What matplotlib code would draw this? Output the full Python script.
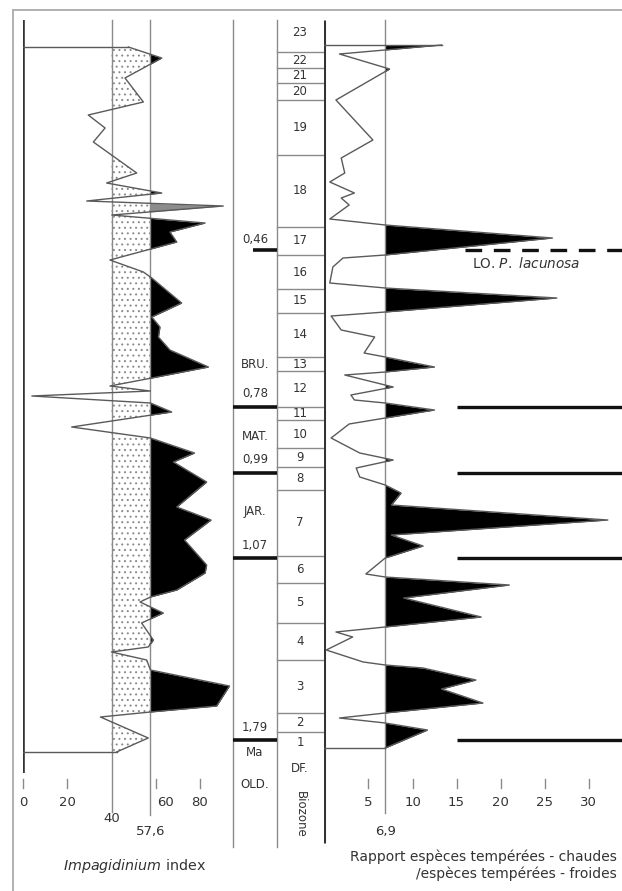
import numpy as np
import matplotlib.pyplot as plt

plt.rcParams['font.family'] = ['DejaVu Sans']
plt.rcParams['mathtext.fontset'] = 'dejavusans'
plt.rcParams['hatch.linewidth'] = 0.7

# ---------------------------------------------------------------------------
# Data (levels run from top of the section downwards)
# ---------------------------------------------------------------------------
# Impagidinium index log
imp_level = [47, 58, 78, 102, 115, 128, 142, 173, 183, 193, 201, 206, 215, 223,
             232, 242, 260, 272, 278, 303, 317, 327, 337, 350, 367, 378, 386,
             391, 396, 403, 412, 427, 438, 453, 462, 482, 507, 520, 540, 565,
             573, 590, 597, 602, 613, 623, 640, 647, 652, 660, 670, 686, 706,
             712, 717, 738, 752]
imp_value = [47.6, 62.7, 46.1, 54.4, 29.5, 37.1, 31.8, 51.4, 37.8, 62.7, 28.8,
             90.5, 40.1, 82.3, 66.4, 69.5, 39.3, 54.4, 58.2, 71.7, 58.2, 61.9,
             61.2, 66.4, 83.8, 58.2, 39.3, 57.6, 4.0, 57.6, 67.2, 22.0, 57.6,
             77.5, 68.0, 83.0, 69.5, 85.0, 73.0, 83.0, 82.3, 69.5, 57.6, 52.9,
             63.4, 53.6, 58.9, 56.6, 40.0, 55.9, 57.6, 93.3, 87.5, 57.6, 35.0,
             56.6, 42.3]
imp_low = 40.0
imp_mean = 57.6
imp_grey_span = (201, 215)
imp_ticks = [0, 20, 60, 80]

# Warm-temperate / cold-temperate species ratio log
ratio_level = [45, 54, 69, 100, 140, 158, 173, 182, 193, 198, 205, 219, 225,
               238, 255, 258, 267, 283, 288, 298, 312, 316, 330, 337, 353, 357,
               367, 372, 375, 387, 395, 400, 403, 410, 418, 424, 438, 453, 460,
               468, 477, 485, 493, 505, 520, 535, 546, 558, 574, 577, 585, 598,
               617, 627, 632, 637, 650, 662, 665, 668, 680, 689, 703, 713, 718,
               723, 730, 748]
ratio_value = [13.3, 1.7, 7.4, 1.3, 5.5, 1.9, 2.3, 0.6, 3.4, 1.9, 2.8, 0.6, 6.9,
               25.9, 6.9, 2.1, 0.95, 0.6, 6.9, 26.4, 6.9, 0.75, 1.9, 5.7, 4.5,
               6.9, 12.5, 6.9, 2.3, 7.8, 3.0, 3.4, 6.9, 12.5, 6.9, 2.8, 0.75,
               4.0, 7.8, 3.6, 4.0, 6.9, 8.7, 7.6, 32.2, 7.6, 11.2, 6.9, 4.7, 6.9,
               21.0, 9.0, 17.8, 6.9, 1.3, 3.2, 0.2, 4.4, 6.9, 11.2, 17.2, 13.3,
               18.0, 6.9, 1.7, 6.9, 11.7, 6.9]
ratio_mean = 6.9
ratio_ticks = [5, 10, 15, 20, 25, 30]

# Biozones (numbered from top) and their lower boundaries
biozone_ids = list(range(23, 0, -1))
biozone_bounds = [52, 68, 83, 100, 155, 227, 255, 289, 313, 357, 371, 407,
                  420, 448, 467, 490, 556, 583, 623, 660, 713, 732]

# Magnetostratigraphic ages (Ma) and chron names
age_ma = [0.46, 0.78, 0.99, 1.07, 1.79]
age_level = [249.5, 407, 473, 558, 740]
chron_names = ['BRU.', 'MAT.', 'JAR.', 'OLD.']
chron_level = [364, 436, 511, 784]

# ---------------------------------------------------------------------------
W, H = 622, 891
fig = plt.figure(figsize=(W / 100, H / 100), dpi=100)
fig.patch.set_facecolor('white')

# page / layout layer in pixel units
ax0 = fig.add_axes([0, 0, 1, 1])
ax0.set_xlim(0, W)
ax0.set_ylim(H, 0)
ax0.axis('off')

LOG_TOP = 20
GRID = '#8a8a8a'
CURVE = '#5a5a5a'
INK = '#111111'
TXT = '#333333'

# outer frame
ax0.plot([13, W], [10, 10], color='#b0b0b0', lw=1.4)
ax0.plot([13, 13], [10, H], color='#b0b0b0', lw=1.4)

# ---------------------------------------------------------------------------
# Age / chron column and biozone column
# ---------------------------------------------------------------------------
col_ma = (233, 277)
col_bz = (277, 324)
col_bottom = 847
for xc in (col_ma[0], col_ma[1]):
    ax0.plot([xc, xc], [LOG_TOP, col_bottom], color=GRID, lw=1.0)

for b in biozone_bounds:
    ax0.plot([col_bz[0], col_bz[1]], [b, b], color=GRID, lw=1.0)
tops = [LOG_TOP] + biozone_bounds
bottoms = biozone_bounds + [None]
for zid, t, b in zip(biozone_ids, tops, bottoms):
    yc = (t + b) / 2 if b is not None else t + 11
    if zid == 23:
        yc -= 3
    ax0.text(300, yc, str(zid), ha='center', va='center', fontsize=8.5,
             color=TXT)
ax0.text(300, 768, 'DF.', ha='center', va='center', fontsize=8.5, color=TXT)
ax0.text(300, 814, 'Biozone', ha='center', va='center', fontsize=8.5,
         color=TXT, rotation=-90)

for a, lv in zip(age_ma, age_level):
    x_start = 253 if a < 0.5 else col_ma[0]
    ax0.plot([x_start, col_ma[1]], [lv, lv], color=INK, lw=2.6,
             solid_capstyle='butt')
    lab = f'{a:.2f}'.replace('.', ',')
    dy = 10 if a < 0.5 else 13
    ax0.text(255, lv - dy, lab, ha='center', va='center', fontsize=8.5,
             color=TXT)
for name, lv in zip(chron_names, chron_level):
    ax0.text(255, lv, name, ha='center', va='center', fontsize=8.5, color=TXT)
ax0.text(255, 752, 'Ma', ha='center', va='center', fontsize=8.5, color=TXT)

# ---------------------------------------------------------------------------
# Impagidinium index panel
# ---------------------------------------------------------------------------
L0, LPX = 23, 2.2125          # origin and pixels per index unit
axl = fig.add_axes([L0 / W, 0, (232 - L0) / W, 1])
axl.set_xlim(0, (232 - L0) / LPX)
axl.set_ylim(H, 0)
axl.axis('off')
axl.patch.set_visible(False)

lv = np.asarray(imp_level, float)
vv = np.asarray(imp_value, float)
yf = np.linspace(lv.min(), lv.max(), 6000)
vf = np.interp(yf, lv, vv)

axl.fill_betweenx(yf, imp_low, np.clip(vf, imp_low, imp_mean),
                  facecolor='white', edgecolor='#8a8a8a', hatch='...',
                  linewidth=0)
grey = (yf >= imp_grey_span[0]) & (yf <= imp_grey_span[1])
excess = np.maximum(vf, imp_mean)
axl.fill_betweenx(yf, imp_mean, np.where(grey, imp_mean, excess),
                  color='black', lw=0)
axl.fill_betweenx(yf, imp_mean, np.where(grey, excess, imp_mean),
                  color='#8c8c8c', lw=0)

axl.plot([imp_low, imp_low], [LOG_TOP, 812], color=GRID, lw=1.0)
axl.plot([imp_mean, imp_mean], [LOG_TOP, 815], color=GRID, lw=1.0)
axl.plot([0, 0], [LOG_TOP, 773], color=TXT, lw=2.6, solid_capstyle='butt')
axl.plot([0, vv[0]], [lv[0], lv[0]], color=CURVE, lw=1.0)
axl.plot([0, vv[-1]], [lv[-1], lv[-1]], color=CURVE, lw=1.0)
axl.plot(vv, lv, color=CURVE, lw=1.0)

for t in imp_ticks:
    axl.plot([t, t], [779, 788], color=GRID, lw=1.0, clip_on=False)
    if abs(t - imp_mean) < 5:
        axl.text(t + 0.6, 802, str(t), ha='left', va='center', fontsize=9.5,
                 color=TXT)
    else:
        axl.text(t, 802, str(t), ha='center', va='center', fontsize=9.5,
                 color=TXT, clip_on=False)
axl.text(imp_low, 818, f'{imp_low:.0f}', ha='center', va='center',
         fontsize=9.5, color=TXT)
axl.text(imp_mean, 831, f'{imp_mean}'.replace('.', ','), ha='center',
         va='center', fontsize=9.5, color=TXT)
axl.text(50.6, 866, r'$\it{Impagidinium}$ index', ha='center', va='center',
         fontsize=10.3, color=TXT)

# ---------------------------------------------------------------------------
# Temperate-warm / temperate-cold ratio panel
# ---------------------------------------------------------------------------
R0, RPX = 324.5, 8.8
axr = fig.add_axes([R0 / W, 0, (W - R0) / W, 1])
axr.set_xlim(0, (W - R0) / RPX)
axr.set_ylim(H, 0)
axr.axis('off')
axr.patch.set_visible(False)

rl = np.asarray(ratio_level, float)
rv = np.asarray(ratio_value, float)
yr = np.linspace(rl.min(), rl.max(), 6000)
rf = np.interp(yr, rl, rv)
axr.fill_betweenx(yr, ratio_mean, np.maximum(rf, ratio_mean),
                  color='black', lw=0)

axr.plot([ratio_mean, ratio_mean], [LOG_TOP, 813], color=GRID, lw=1.0)
axr.plot([0, 0], [LOG_TOP, 843], color=TXT, lw=2.2, solid_capstyle='butt')
axr.plot([0, rv[0]], [rl[0], rl[0]], color=CURVE, lw=1.0)
axr.plot([0, rv[-1]], [rl[-1], rl[-1]], color=CURVE, lw=1.0)
axr.plot(rv, rl, color=CURVE, lw=1.0)

xmax = (W - R0) / RPX
for a, lvl in zip(age_ma, age_level):
    if a < 0.5:
        axr.plot([16.0, xmax], [lvl, lvl], color=INK, lw=2.4,
                 ls=(0, (5, 3.5)), dash_capstyle='butt')
    else:
        axr.plot([15.0, xmax], [lvl, lvl], color=INK, lw=2.4,
                 solid_capstyle='butt')
axr.text(16.8, 264, r'LO. $\it{P.\ lacunosa}$', ha='left', va='center',
         fontsize=9.8, color=TXT)

for t in ratio_ticks:
    axr.plot([t, t], [779, 788], color=GRID, lw=1.0)
    axr.text(t, 802, str(t), ha='center', va='center', fontsize=9.5,
             color=TXT)
axr.text(ratio_mean, 831, f'{ratio_mean}'.replace('.', ','), ha='center',
         va='center', fontsize=9.5, color=TXT)

ax0.text(617, 857, 'Rapport espèces tempérées - chaudes', ha='right',
         va='center', fontsize=10, color=TXT)
ax0.text(617, 874, '/espèces tempérées - froides', ha='right',
         va='center', fontsize=10, color=TXT)

fig.savefig('out.png', dpi=100, facecolor='white')
